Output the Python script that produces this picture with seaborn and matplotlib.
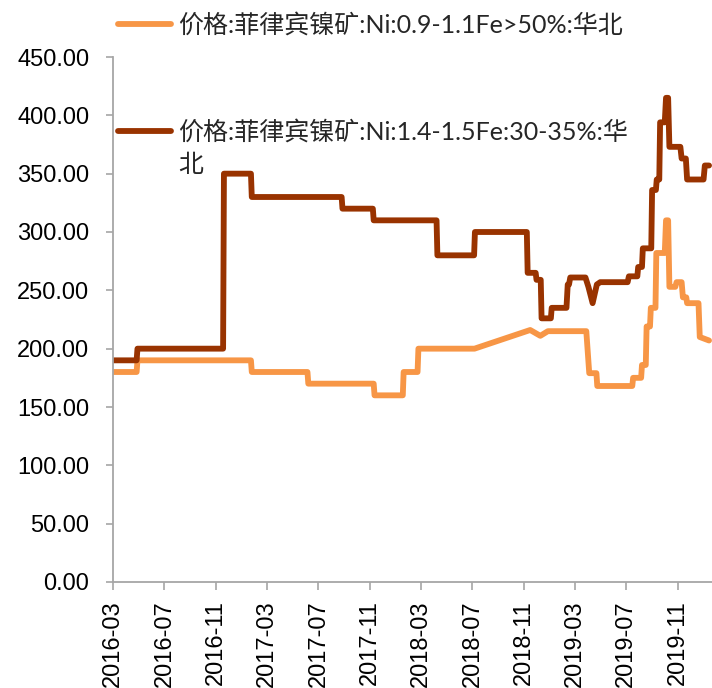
import matplotlib
matplotlib.use("Agg")
import matplotlib.pyplot as plt
import matplotlib.dates as mdates
import pandas as pd
import seaborn as sns

# Series names (legend labels)
name_high_fe = "价格:菲律宾镍矿:Ni:0.9-1.1Fe>50%:华北"
name_low_fe = "价格:菲律宾镍矿:Ni:1.4-1.5Fe:30-35%:华北"

# Ni 0.9-1.1, Fe>50% (yuan/wet ton)
high_fe_dates = [
    "2016-03-01", "2016-04-26", "2016-04-28", "2017-01-22", "2017-01-24",
    "2017-06-05", "2017-06-07", "2017-11-09", "2017-11-11", "2018-01-17",
    "2018-01-19", "2018-02-21", "2018-02-23", "2018-07-06", "2018-11-15",
    "2018-12-09", "2018-12-27", "2019-03-28", "2019-04-04", "2019-04-21",
    "2019-04-23", "2019-07-15", "2019-07-17", "2019-08-05", "2019-08-07",
    "2019-08-16", "2019-08-18", "2019-08-26", "2019-08-28", "2019-09-08",
    "2019-09-10", "2019-09-30", "2019-10-03", "2019-10-08", "2019-10-11",
    "2019-10-25", "2019-10-28", "2019-11-09", "2019-11-12", "2019-11-20",
    "2019-11-22", "2019-12-19", "2019-12-22", "2020-01-13",
]
high_fe_values = [
    180, 180, 190, 190, 180,
    180, 170, 170, 160, 160,
    180, 180, 200, 200, 216,
    211, 215, 215, 179, 179,
    168, 168, 175, 175, 186,
    186, 219, 219, 235, 235,
    282, 282, 310, 310, 253,
    253, 257, 257, 244, 244,
    239, 239, 210, 207,
]

# Ni 1.4-1.5, Fe 30-35% (yuan/wet ton)
low_fe_dates = [
    "2016-03-01", "2016-04-26", "2016-04-28", "2016-11-17", "2016-11-19",
    "2017-01-22", "2017-01-24", "2017-08-25", "2017-08-27", "2017-11-07",
    "2017-11-09", "2018-04-07", "2018-04-09", "2018-07-05", "2018-07-07",
    "2018-11-07", "2018-11-09", "2018-11-28", "2018-11-30", "2018-12-10",
    "2018-12-12", "2019-01-03", "2019-01-05", "2019-02-09", "2019-02-12",
    "2019-02-15", "2019-02-18", "2019-03-26", "2019-04-02", "2019-04-12",
    "2019-04-22", "2019-04-30", "2019-07-04", "2019-07-07", "2019-07-27",
    "2019-07-29", "2019-08-07", "2019-08-09", "2019-08-29", "2019-08-31",
    "2019-09-09", "2019-09-11", "2019-09-17", "2019-09-19", "2019-09-30",
    "2019-10-03", "2019-10-08", "2019-10-11", "2019-11-06", "2019-11-09",
    "2019-11-19", "2019-11-22", "2019-12-31", "2020-01-03", "2020-01-13",
]
low_fe_values = [
    190, 190, 200, 200, 350,
    350, 330, 330, 320, 320,
    310, 310, 280, 280, 300,
    300, 265, 265, 259, 259,
    226, 226, 235, 235, 255,
    255, 261, 261, 253, 239,
    255, 257, 257, 262, 262,
    270, 270, 286, 286, 336,
    336, 345, 345, 394, 394,
    415, 415, 373, 373, 363,
    363, 345, 345, 357, 357,
]

tick_dates = pd.date_range("2016-03-01", "2019-11-01", freq="4MS")

df = pd.concat([
    pd.DataFrame({"date": pd.to_datetime(high_fe_dates), "price": high_fe_values, "series": name_high_fe}),
    pd.DataFrame({"date": pd.to_datetime(low_fe_dates), "price": low_fe_values, "series": name_low_fe}),
])

sns.set_theme(style="white")
plt.rcParams["font.family"] = ["Liberation Sans", "Noto Sans CJK SC", "DejaVu Sans"]

palette = {name_high_fe: "#F79646", name_low_fe: "#993300"}

fig = plt.figure(figsize=(7.12, 6.88), dpi=100)
ax = fig.add_axes([113 / 712, 1 - 582 / 688, 1 - 113 / 712, (582 - 57) / 688])

sns.lineplot(data=df, x="date", y="price", hue="series", palette=palette,
             hue_order=[name_high_fe, name_low_fe], linewidth=4.2,
             legend=False, ax=ax, estimator=None, sort=False)

ax.set_ylim(0, 450)
ax.set_yticks(range(0, 451, 50))
ax.yaxis.set_major_formatter(matplotlib.ticker.FormatStrFormatter("%.2f"))
ax.set_xlim(pd.Timestamp("2016-03-01"), pd.Timestamp("2020-01-20"))
ax.set_xticks(tick_dates)
ax.xaxis.set_major_formatter(mdates.DateFormatter("%Y-%m"))
ax.set_xlabel("")
ax.set_ylabel("")

for side in ("top", "right"):
    ax.spines[side].set_visible(False)
for side in ("left", "bottom"):
    ax.spines[side].set_color("#A6A6A6")
    ax.spines[side].set_linewidth(1.3)

ax.tick_params(axis="y", which="major", direction="out", length=5, width=1.2,
               color="#A6A6A6", labelsize=17, pad=12, left=True)
ax.tick_params(axis="x", which="major", direction="out", length=6, width=1.2,
               color="#A6A6A6", labelsize=17, pad=7, bottom=True, labelrotation=90)
for lbl in ax.get_xticklabels() + ax.get_yticklabels():
    lbl.set_color("#000000")

line_high, line_low = ax.lines[0], ax.lines[1]
legend_font = {"family": ["Lato", "Noto Sans CJK SC"], "size": 18}

leg1 = fig.legend([line_high], [name_high_fe], loc="center left",
                  bbox_to_anchor=(118 / 712, 1 - 25 / 688), frameon=False,
                  prop=legend_font, handlelength=2.1, handletextpad=0.3,
                  borderpad=0, borderaxespad=0)
# the second label wraps onto a second line after "华"
leg2 = fig.legend([line_low], ["价格:菲律宾镍矿:Ni:1.4-1.5Fe:30-35%:华"],
                  loc="center left", bbox_to_anchor=(118 / 712, 1 - 132 / 688),
                  frameon=False, prop=legend_font, handlelength=2.1,
                  handletextpad=0.3, borderpad=0, borderaxespad=0)
for leg in (leg1, leg2):
    for t in leg.get_texts():
        t.set_color("#262626")
fig.text(178 / 712, 1 - 165 / 688, "北", ha="left", va="center",
         color="#262626", fontsize=18, family=["Lato", "Noto Sans CJK SC"])

fig.savefig("out.png", dpi=100)
